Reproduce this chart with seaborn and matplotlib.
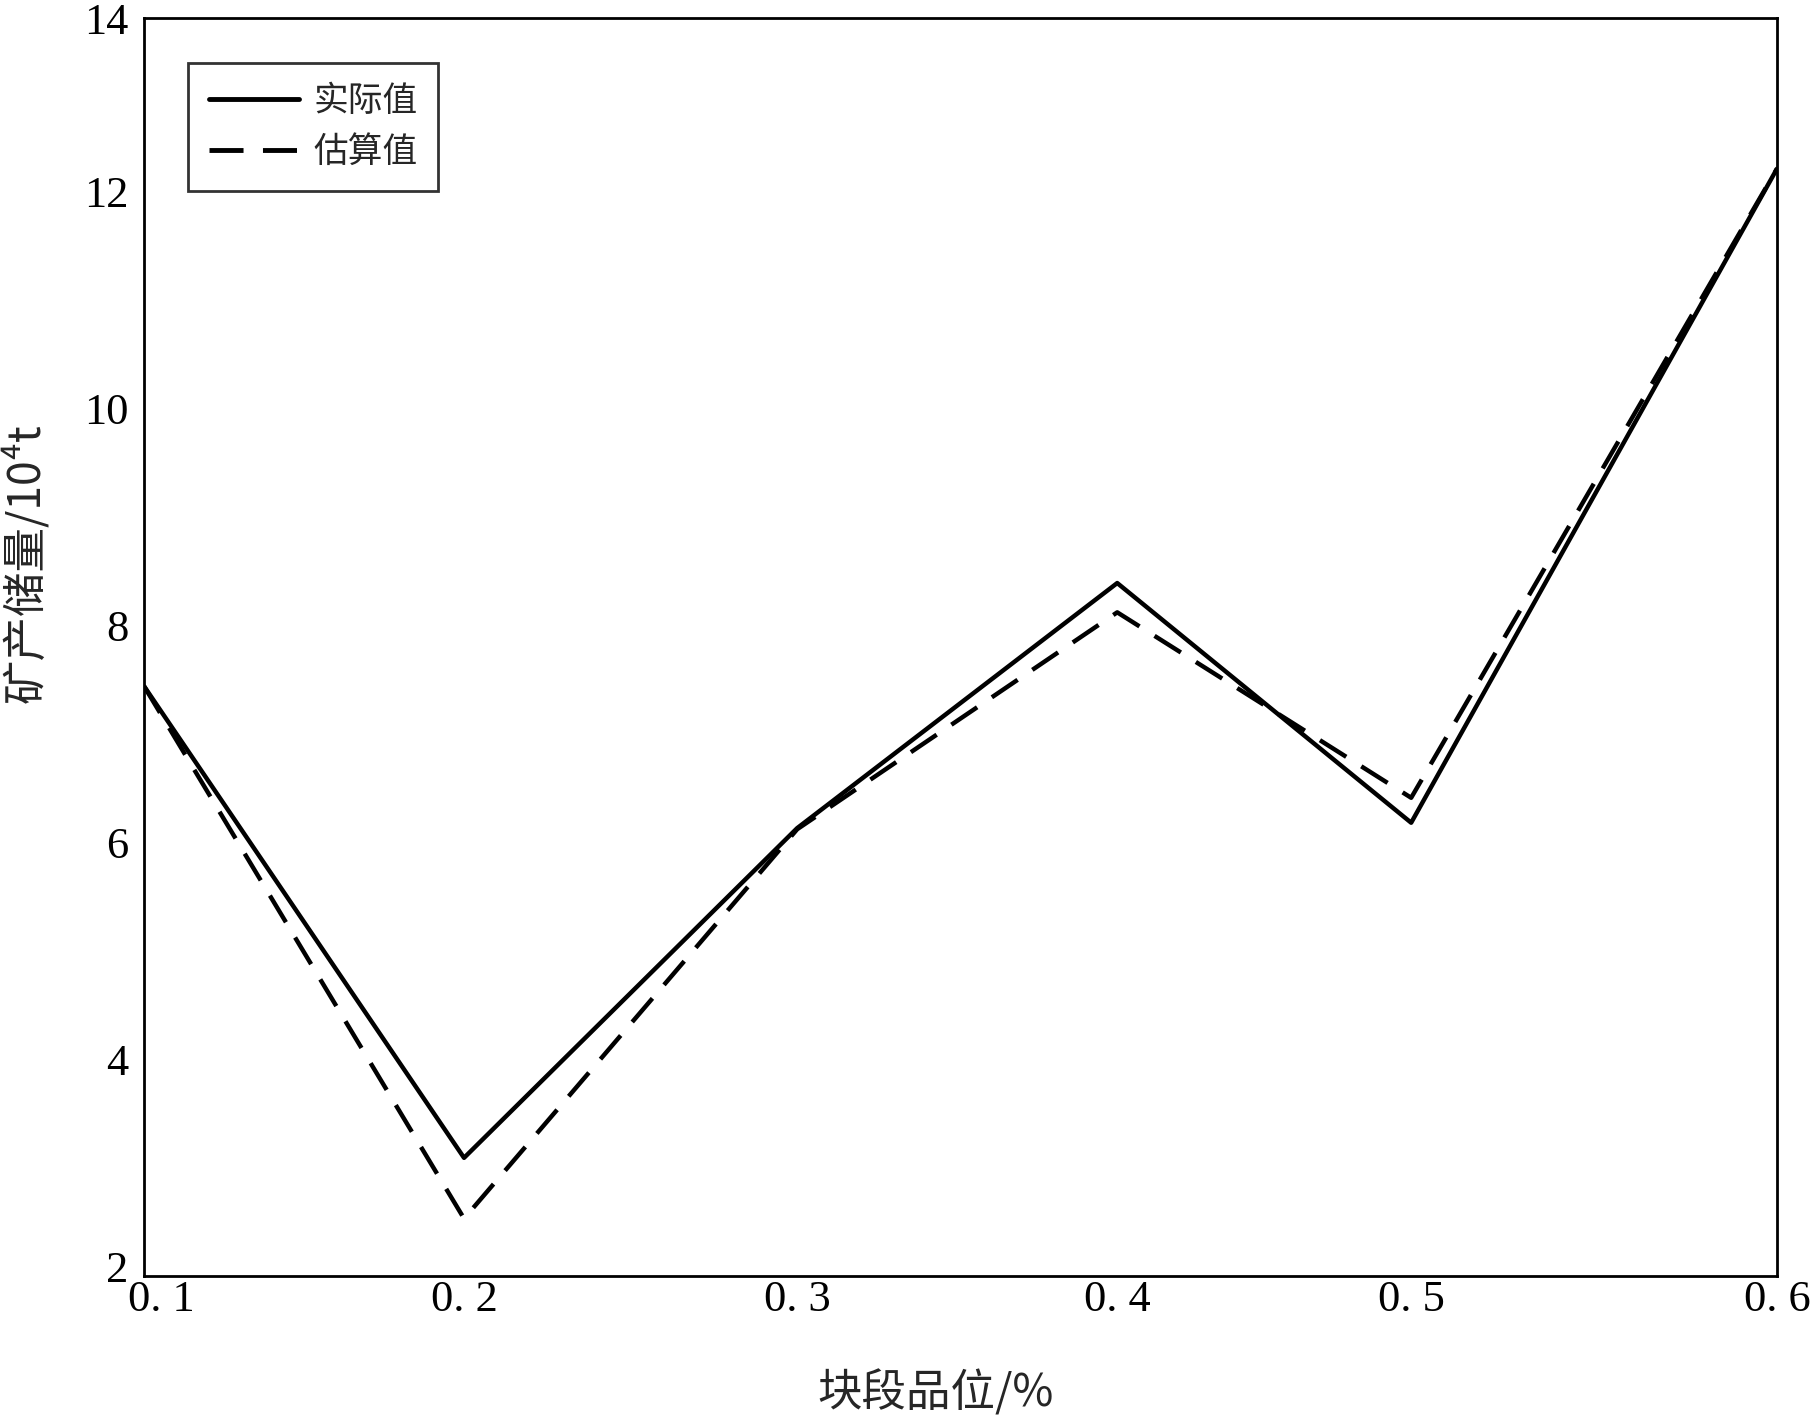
import pandas as pd
import matplotlib
matplotlib.use("Agg")
import matplotlib.pyplot as plt
import matplotlib.transforms as mtransforms
import seaborn as sns

# ─────────────────────────────────────────────
# DATA
# ─────────────────────────────────────────────
grade = [0.1, 0.198, 0.3, 0.398, 0.488, 0.6]          # 块段品位 / %
actual = [7.44, 3.09, 6.13, 8.39, 6.18, 12.21]         # 实际值
estimate = [7.44, 2.53, 6.12, 8.12, 6.41, 12.21]       # 估算值

xtick_labels = ["0. 1", "0. 2", "0. 3", "0. 4", "0. 5", "0. 6"]
ytick_values = [2, 4, 6, 8, 10, 12, 13.6]   # scanned axis: top edge is labelled 14
ytick_labels = ["2", "4", "6", "8", "10", "12", "14"]

df = pd.DataFrame({"grade": grade * 2,
                   "reserve": actual + estimate,
                   "kind": ["实际值"] * len(grade) + ["估算值"] * len(grade)})

# ─────────────────────────────────────────────
# STYLE
# ─────────────────────────────────────────────
sns.set_theme(style="white")
plt.rcParams["font.family"] = ["Liberation Serif", "Noto Sans CJK SC", "DejaVu Sans"]
plt.rcParams["axes.unicode_minus"] = False
cjk = ["Noto Sans CJK SC", "DejaVu Sans"]

fig = plt.figure(figsize=(18.11, 14.18), dpi=100)
ax = fig.add_axes([0.0795, 0.1001, 0.9017, 0.8872])

sns.lineplot(data=df, x="grade", y="reserve", hue="kind", style="kind",
             palette={"实际值": "black", "估算值": "black"},
             dashes={"实际值": "", "估算值": (7, 4)},
             linewidth=3.2, ax=ax, sort=False)

ax.set_xlim(0.1, 0.6)
ax.set_ylim(2, 13.6)
ax.set_xticks(grade, labels=xtick_labels)
ax.set_yticks(ytick_values, labels=ytick_labels)
ax.tick_params(direction="in", length=11, width=1.5, labelsize=32,
               colors="black", top=False, right=False)
ax.tick_params(axis="x", pad=3)
ax.tick_params(axis="y", pad=11)

# first x label sits a little right of its tick, bottom y label a little high
xl = ax.get_xticklabels()
xl[0].set_transform(xl[0].get_transform() +
                    mtransforms.ScaledTranslation(0.17, 0, fig.dpi_scale_trans))
yl = ax.get_yticklabels()
yl[0].set_transform(yl[0].get_transform() +
                    mtransforms.ScaledTranslation(0, 0.1, fig.dpi_scale_trans))

for sp in ax.spines.values():
    sp.set_color("black")
    sp.set_linewidth(2)

ax.set_xlabel("块段品位/%", fontsize=32, family=cjk, va="center")
ax.set_ylabel("矿产储量/10⁴t", fontsize=32, family=cjk, va="center")
ax.xaxis.set_label_coords(0.485, -0.093)
ax.yaxis.set_label_coords(-0.073, 0.567)

leg = ax.legend(loc="upper left", bbox_to_anchor=(0.027, 0.964),
                prop={"family": cjk, "size": 25}, frameon=True,
                fancybox=False, handlelength=2.6, handletextpad=0.4,
                borderpad=0.6, labelspacing=0.45, borderaxespad=0)
leg.get_frame().set_edgecolor("black")
leg.get_frame().set_linewidth(2)
for line in leg.get_lines():
    line.set_linewidth(3.5)

fig.savefig("out.png", dpi=100, facecolor="white")
